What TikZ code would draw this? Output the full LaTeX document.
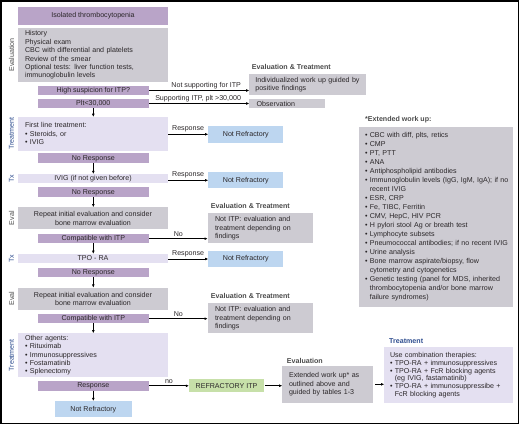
\documentclass[tikz,border=0pt]{standalone}
\usepackage{fontspec}
\setmainfont{Liberation Sans}
\usetikzlibrary{arrows.meta}
\definecolor{purpc}{HTML}{B9A4C8}
\definecolor{grayc}{HTML}{CDCBD2}
\definecolor{lavc}{HTML}{E4E0F1}
\definecolor{bluec}{HTML}{BDD6F0}
\definecolor{greenc}{HTML}{C7E0A9}
\definecolor{txtc}{HTML}{2A2628}
\definecolor{hdrc}{HTML}{4A4A4A}
\definecolor{navyc}{HTML}{2E4D8F}
\newcommand\myfs{\fontsize{7.1}{8.4}\selectfont}
\newcommand\bl[1]{\mbox{\textbullet\ #1}}
\newcommand\bc[1]{\mbox{\phantom{\textbullet\ }#1}}
\begin{document}
\begin{tikzpicture}[x=1pt,y=-1pt,
  base/.style={inner sep=0pt, outer sep=0pt, font=\myfs, text=txtc},
  pbox/.style={base, fill=purpc, align=center},
  gbox/.style={base, fill=grayc},
  lbox/.style={base, fill=lavc},
  bbox/.style={base, fill=bluec, align=center},
  rbox/.style={base, fill=greenc, align=center},
  hdr/.style={inner sep=0pt, font=\myfs\bfseries, text=hdrc, anchor=west},
  sidelbl/.style={inner sep=0pt, font=\myfs, rotate=90},
  lbl/.style={above, inner sep=1.5pt, font=\myfs, text=txtc},
  arr/.style={line width=0.7pt, -{Latex[length=3.2pt,width=2.8pt]}}
]
\useasboundingbox (0,0) rectangle (520,425);
\draw[line width=1.3pt] (1,1) rectangle (518.6,423.4);

% left column
\node[pbox, minimum width=150pt, minimum height=17.7pt] (iso) at (93,15.8) {Isolated thrombocytopenia};
\node[gbox, inner xsep=7pt, text width=136pt, minimum height=54pt, align=left] (hist) at (93,55)
  {History\\Physical exam\\CBC with differential and platelets\\Review of the smear\\Optional tests: liver function tests,\\immunoglobulin levels};
\node[pbox, minimum width=111.3pt, minimum height=9pt] (hs) at (93.3,90.5) {High suspicion for ITP?};
\node[pbox, minimum width=111.3pt, minimum height=9.3pt] (plt) at (93.3,103.5) {Plt<30,000};
\node[lbox, inner xsep=7pt, text width=136pt, minimum height=33.7pt, align=left] (fl) at (93,133.8)
  {First line treatment:\\\bl{Steroids, or}\\\bl{IVIG}};
\node[pbox, minimum width=111.3pt, minimum height=10pt] (nr1) at (93.3,158.3) {No Response};
\node[lbox, minimum width=150pt, minimum height=9.3pt, align=center] (ivig) at (93,178.7) {IVIG (if not given before)};
\node[pbox, minimum width=111.3pt, minimum height=10pt] (nr2) at (93.3,192.3) {No Response};
\node[gbox, minimum width=150pt, minimum height=22pt, align=center] (rep1) at (93,218.3)
  {Repeat initial evaluation and consider\\bone marrow evaluation};
\node[pbox, minimum width=111.3pt, minimum height=9.3pt] (comp1) at (93.3,238.7) {Compatible with ITP};
\node[lbox, minimum width=150pt, minimum height=9.3pt, align=center] (tpo) at (93,258.5) {TPO - RA};
\node[pbox, minimum width=111.3pt, minimum height=9pt] (nr3) at (93.3,272.8) {No Response};
\node[gbox, minimum width=150pt, minimum height=22.3pt, align=center] (rep2) at (93,298.8)
  {Repeat initial evaluation and consider\\bone marrow evaluation};
\node[pbox, minimum width=111.3pt, minimum height=9.3pt] (comp2) at (93.3,318.7) {Compatible with ITP};
\node[lbox, inner xsep=7pt, text width=136pt, minimum height=44pt, align=left] (oth) at (93,355.3)
  {Other agents:\\\bl{Rituximab}\\\bl{Immunosuppressives}\\\bl{Fostamatinib}\\\bl{Splenectomy}};
\node[pbox, minimum width=111.3pt, minimum height=9.7pt] (resp) at (93.3,385.8) {Response};
\node[bbox, minimum width=76.7pt, minimum height=16.3pt] (nrf) at (93.3,409.2) {Not Refractory};

% side labels
\node[sidelbl, text=hdrc] (s1) at (11.5,55) {Evaluation};
\node[sidelbl, text=navyc] (s2) at (11.5,133.8) {Treatment};
\node[sidelbl, text=navyc] (s3) at (11.5,178.7) {Tx};
\node[sidelbl, text=hdrc] (s4) at (11.5,218.3) {Eval};
\node[sidelbl, text=navyc] (s5) at (11.5,258.5) {Tx};
\node[sidelbl, text=hdrc] (s6) at (11.5,298.8) {Eval};
\node[sidelbl, text=navyc] (s7) at (11.5,355.3) {Treatment};

% right column
\node[hdr] (h1) at (251.7,66.7) {Evaluation \& Treatment};
\node[gbox, inner xsep=6pt, text width=104.7pt, minimum height=21pt, align=left] (indiv) at (307.7,84.5)
  {\mbox{Individualized work up guided by}\\positive findings};
\node[gbox, inner xsep=7.4pt, text width=61pt, minimum height=9.3pt, align=left] (obs) at (287.2,103.7) {Observation};
\node[bbox, minimum width=75pt, minimum height=16.7pt] (nr1r) at (245.8,134.3) {Not Refractory};
\node[bbox, minimum width=75pt, minimum height=16pt] (nr2r) at (245.8,180.3) {Not Refractory};
\node[hdr] (h2) at (210.7,206) {Evaluation \& Treatment};
\node[gbox, inner xsep=7.3pt, text width=90.4pt, minimum height=30pt, align=left] (nitp1) at (260.2,228.3)
  {Not ITP: evaluation and\\treatment depending on\\findings};
\node[bbox, minimum width=75pt, minimum height=16.7pt] (nr3r) at (245.8,259) {Not Refractory};
\node[hdr] (h3) at (210.7,296) {Evaluation \& Treatment};
\node[gbox, inner xsep=7.3pt, text width=90.4pt, minimum height=30pt, align=left] (nitp2) at (260.2,318.3)
  {Not ITP: evaluation and\\treatment depending on\\findings};
\node[rbox, minimum width=75pt, minimum height=13.3pt] (refr) at (226.5,385.7) {REFRACTORY ITP};
\node[hdr] (h4) at (286.7,360.7) {Evaluation};
\node[gbox, inner xsep=6.7pt, text width=77.3pt, minimum height=36.7pt, align=left] (ext) at (327.7,384.3)
  {Extended work up* as\\outlined above and\\guided by tables 1-3};
\node[hdr, text=navyc] (h5) at (389,340.7) {Treatment};
\node[lbox, inner xsep=5.7pt, text width=117pt, minimum height=56pt, align=left, font=\fontsize{7.1}{7.7}\selectfont] (trt) at (448.5,375.3)
  {Use combination therapies:\\\bl{TPO-RA + immunosuppressives}\\\bl{TPO-RA + FcR blocking agents}\\\bc{(eg IVIG, fastamatinib)}\\\bl{TPO-RA + immunosuppressibe +}\\\bc{FcR blocking agents}};
\node[hdr] (h6) at (365,120) {*Extended work up:};
\node[gbox, inner xsep=5.7pt, text width=142pt, minimum height=180pt, align=left, font=\fontsize{7.1}{9}\selectfont] (extbig) at (436,216.7)
  {\bl{CBC with diff, plts, retics}\\
   \bl{CMP}\\
   \bl{PT, PTT}\\
   \bl{ANA}\\
   \bl{Antiphospholipid antibodies}\\
   \bl{Immunoglobulin levels (IgG, IgM, IgA); if no}\\
   \bc{recent IVIG}\\
   \bl{ESR, CRP}\\
   \bl{Fe, TIBC, Ferritin}\\
   \bl{CMV, HepC, HIV PCR}\\
   \bl{H pylori stool Ag or breath test}\\
   \bl{Lymphocyte subsets}\\
   \bl{Pneumococcal antibodies; if no recent IVIG}\\
   \bl{Urine analysis}\\
   \bl{Bone marrow aspirate/biopsy, flow}\\
   \bc{cytometry and cytogenetics}\\
   \bl{Genetic testing (panel for MDS, inherited}\\
   \bc{thrombocytopenia and/or bone marrow}\\
   \bc{failure syndromes)}};

% vertical arrows
\draw[arr] (plt.south) -- (plt.south |- fl.north);
\draw[arr] (nr1.south) -- (nr1.south |- ivig.north);
\draw[arr] (nr2.south) -- (nr2.south |- rep1.north);
\draw[arr] (comp1.south) -- (comp1.south |- tpo.north);
\draw[arr] (nr3.south) -- (nr3.south |- rep2.north);
\draw[arr] (comp2.south) -- (comp2.south |- oth.north);
\draw[arr] (resp.south) -- (nrf.north);

% horizontal arrows
\draw[arr] (hs.east) -- node[lbl, pos=0.57] {Not supporting for ITP} (hs.east -| indiv.west);
\draw[arr] (plt.east) -- node[lbl, pos=0.49] {Supporting ITP, plt >30,000} (plt.east -| obs.west);
\draw[arr] (nr1r.west -| fl.east) -- node[lbl] {Response} (nr1r.west);
\draw[arr] (nr2r.west -| ivig.east) -- node[lbl] {Response} (nr2r.west);
\draw[arr] (comp1.east) -- node[lbl] {No} (comp1.east -| nitp1.west);
\draw[arr] (nr3r.west -| tpo.east) -- node[lbl] {Response} (nr3r.west);
\draw[arr] (comp2.east) -- node[lbl] {No} (comp2.east -| nitp2.west);
\draw[arr] (resp.east) -- node[lbl] {no} (resp.east -| refr.west);
\draw[arr, shorten <=1pt] (refr.east) -- (refr.east -| ext.west);
\draw[arr, shorten <=2pt] (ext.east) -- (ext.east -| trt.west);
\end{tikzpicture}
\end{document}
